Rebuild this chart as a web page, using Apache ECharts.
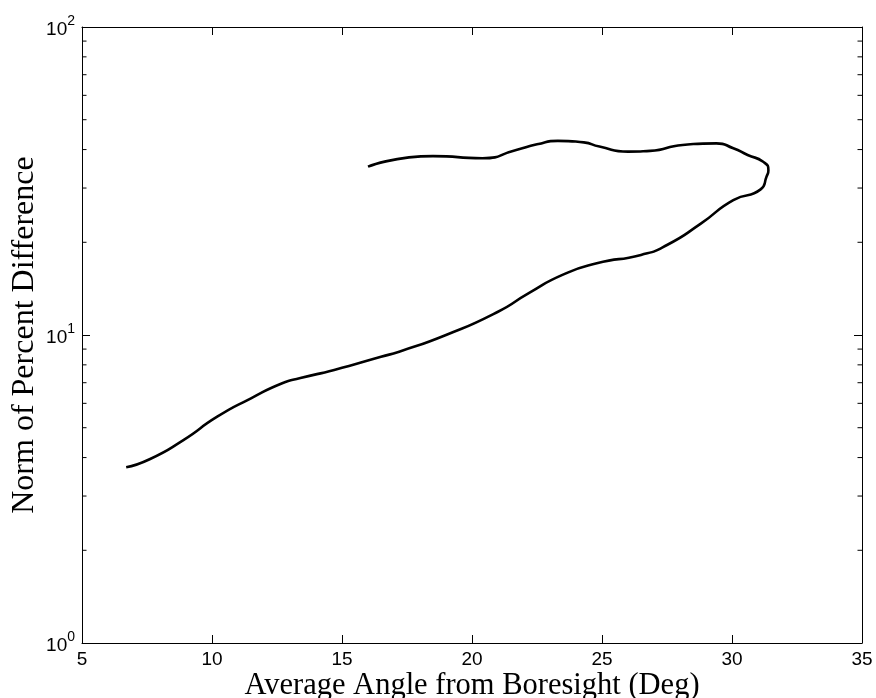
<!DOCTYPE html>
<html>
<head>
<meta charset="utf-8">
<script src="https://cdn.jsdelivr.net/npm/echarts@6/dist/echarts.min.js"></script>
<style>
  html, body { margin: 0; padding: 0; background: #fff; }
  #chart { width: 876px; height: 698px; }
</style>
</head>
<body>
<div id="chart"></div>
<script>
// curve, in drawing order (starts lower-left, loops back along the top)
const angleDeg = [6.7, 7.6, 8.9, 10.2, 11.5, 12.7, 13.4, 14.7, 16.5, 17.2, 19.0, 21.0, 22.2, 23.5, 24.8, 26.5, 27.5, 28.8, 30.05, 31.1, 31.33, 31.4, 31.2, 30.6, 30.05, 29.4, 28.1, 26.85, 26.0, 24.9, 24.3, 23.3, 22.5, 21.7, 20.4, 18.5, 16.0]
const normPct = [3.72, 3.95, 4.56, 5.43, 6.23, 6.97, 7.25, 7.7, 8.5, 8.83, 10.0, 11.9, 13.7, 15.7, 17.1, 18.2, 19.6, 23.0, 27.4, 29.7, 32.7, 34.3, 36.5, 38.4, 40.4, 41.9, 41.4, 39.6, 39.4, 40.9, 42.2, 42.7, 41.6, 39.9, 37.5, 38.1, 35.2]

const xMin = 5
const xMax = 35
const xStep = 5
const yMin = 1
const yMax = 100
const yMinorTicks = [2, 3, 4, 5, 6, 7, 8, 9, 20, 30, 40, 50, 60, 70, 80, 90]

const sans = '"Liberation Sans", Arial, Helvetica, sans-serif'
const serif = '"Liberation Serif", "Times New Roman", serif'

const frameLine = { show: true, onZero: false, lineStyle: { color: '#000', width: 1 } }
const majorTick = { show: true, inside: true, length: 8, lineStyle: { color: '#000', width: 1 } }

const chart = echarts.init(document.getElementById('chart'))

const minorData = []
yMinorTicks.forEach((v) => {
  minorData.push([xMin, v, 1])
  minorData.push([xMax, v, -1])
})

chart.setOption({
  backgroundColor: '#ffffff',
  animation: false,
  grid: { left: 82, right: 14, top: 27, bottom: 55, containLabel: false, outerBoundsMode: 'none' },
  xAxis: [
    {
      type: 'value',
      position: 'bottom',
      min: xMin,
      max: xMax,
      interval: xStep,
      axisLine: frameLine,
      axisTick: majorTick,
      axisLabel: { margin: 7, fontSize: 19, color: '#000', fontFamily: sans },
      splitLine: { show: false },
      name: 'Average Angle from Boresight (Deg)',
      nameLocation: 'middle',
      nameMoveOverlap: false,
      nameGap: 27,
      nameTextStyle: { fontSize: 30.5, color: '#000', fontFamily: serif },
    },
    {
      type: 'value',
      position: 'top',
      min: xMin,
      max: xMax,
      interval: xStep,
      axisLine: frameLine,
      axisTick: majorTick,
      axisLabel: { show: false },
      splitLine: { show: false },
    },
  ],
  yAxis: [
    {
      type: 'log',
      logBase: 10,
      position: 'left',
      min: yMin,
      max: yMax,
      axisLine: frameLine,
      axisTick: majorTick,
      axisLabel: {
        margin: 7,
        color: '#000',
        formatter: (v) => `{b|10}{s|${Math.round(Math.log10(v))}}`,
        rich: {
          b: { fontSize: 19, fontFamily: sans, color: '#000', verticalAlign: 'bottom' },
          s: { fontSize: 14, fontFamily: sans, color: '#000', verticalAlign: 'bottom', padding: [0, 0, 11, 0] },
        },
      },
      splitLine: { show: false },
      name: 'Norm of Percent Difference',
      nameLocation: 'middle',
      nameMoveOverlap: false,
      nameGap: 41,
      nameTextStyle: { fontSize: 32, color: '#000', fontFamily: serif },
    },
    {
      type: 'log',
      logBase: 10,
      position: 'right',
      min: yMin,
      max: yMax,
      axisLine: frameLine,
      axisTick: majorTick,
      axisLabel: { show: false },
      splitLine: { show: false },
    },
  ],
  series: [
    {
      type: 'line',
      xAxisIndex: 0,
      yAxisIndex: 0,
      data: angleDeg.map((x, i) => [x, normPct[i]]),
      showSymbol: false,
      smooth: 0.6,
      lineStyle: { color: '#000', width: 2.6 },
      silent: true,
    },
    {
      // log-scale minor ticks on left and right frame
      type: 'custom',
      xAxisIndex: 0,
      yAxisIndex: 0,
      silent: true,
      clip: false,
      data: minorData,
      renderItem: (params, api) => {
        const p = api.coord([api.value(0), api.value(1)])
        const dir = api.value(2)
        return {
          type: 'line',
          shape: { x1: p[0], y1: p[1], x2: p[0] + dir * 4.5, y2: p[1] },
          style: { stroke: '#000', lineWidth: 1 },
        }
      },
    },
  ],
})
</script>
</body>
</html>
